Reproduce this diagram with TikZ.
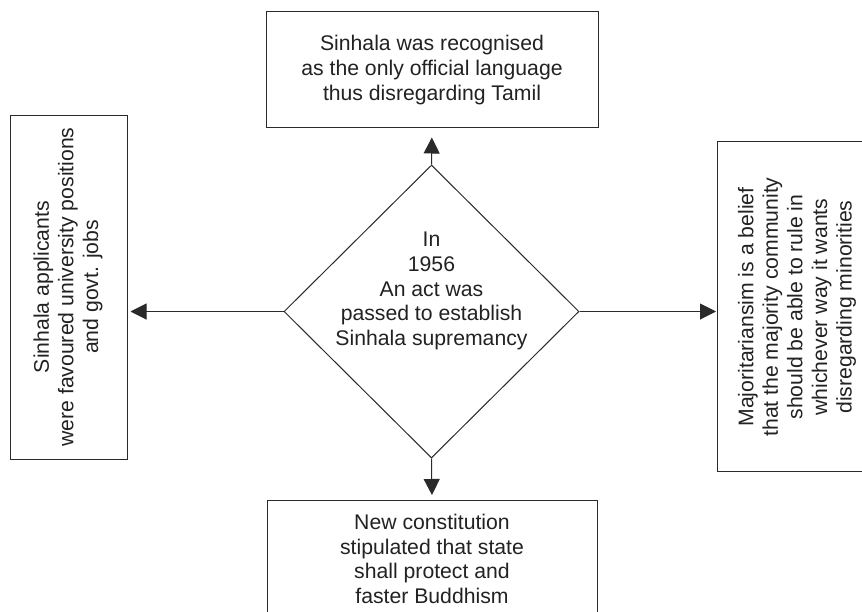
\documentclass[tikz,border=0pt]{standalone}
\usepackage{fontspec}
\setmainfont{Liberation Sans}
\usetikzlibrary{shapes.geometric,arrows.meta}
\definecolor{ink}{HTML}{2A2A2A}
\definecolor{txt}{HTML}{222222}
\tikzset{
  box/.style={draw=ink, line width=1pt, rectangle, inner sep=0pt},
  lbl/.style={text=txt, align=center, inner sep=0pt, font=\fontsize{21.2}{24.6}\selectfont},
  arr/.style={draw=ink, line width=1pt, -{Triangle[length=16pt,width=16pt]}},
}
\begin{document}
\begin{tikzpicture}[x=1pt,y=-1pt]
\clip (0,0) rectangle (862,611);
\fill[white] (0,0) rectangle (862,611);
% central diamond
\node[diamond, draw=ink, line width=1pt, minimum width=295pt, minimum height=293pt, inner sep=0pt] (d) at (431.5,311.5) {};
\node[lbl] (dt) at (431.5,291) {In\\1956\\An act was\\passed to establish\\Sinhala supremancy};
% top box
\node[box, minimum width=332pt, minimum height=116pt] (tb) at (432,69) {};
\node[lbl] (tt) at (432,70) {Sinhala was recognised\\as the only official language\\thus disregarding Tamil};
% bottom box
\node[box, minimum width=330pt, minimum height=160pt, anchor=north] (bb) at (432,500) {};
\node[lbl, anchor=north] (bt) at (432,514) {New constitution\\stipulated that state\\shall protect and\\faster Buddhism};
% left box
\node[box, minimum width=117pt, minimum height=344pt] (lb) at (68.5,287) {};
\node[lbl, rotate=90] (lt) at (68,287) {Sinhala applicants\\were favoured university positions\\and govt. jobs};
% right box
\node[box, minimum width=160pt, minimum height=330pt, anchor=west] (rb) at (717,306) {};
\node[lbl, rotate=90] (rt) at (797,307) {Majoritariansim is a belief\\that the majority community\\should be able to rule in\\whichever way it wants\\disregarding minorities};
% connectors
\draw[arr, shorten >=10pt] (d.north) -- (tb.south);
\draw[arr, shorten >=5pt] (d.south) -- (bb.north);
\draw[arr, shorten >=3pt] (d.west) -- (d.west -| lb.east);
\draw[arr, shorten >=1pt] (d.east) -- (d.east -| rb.west);
\end{tikzpicture}
\end{document}
